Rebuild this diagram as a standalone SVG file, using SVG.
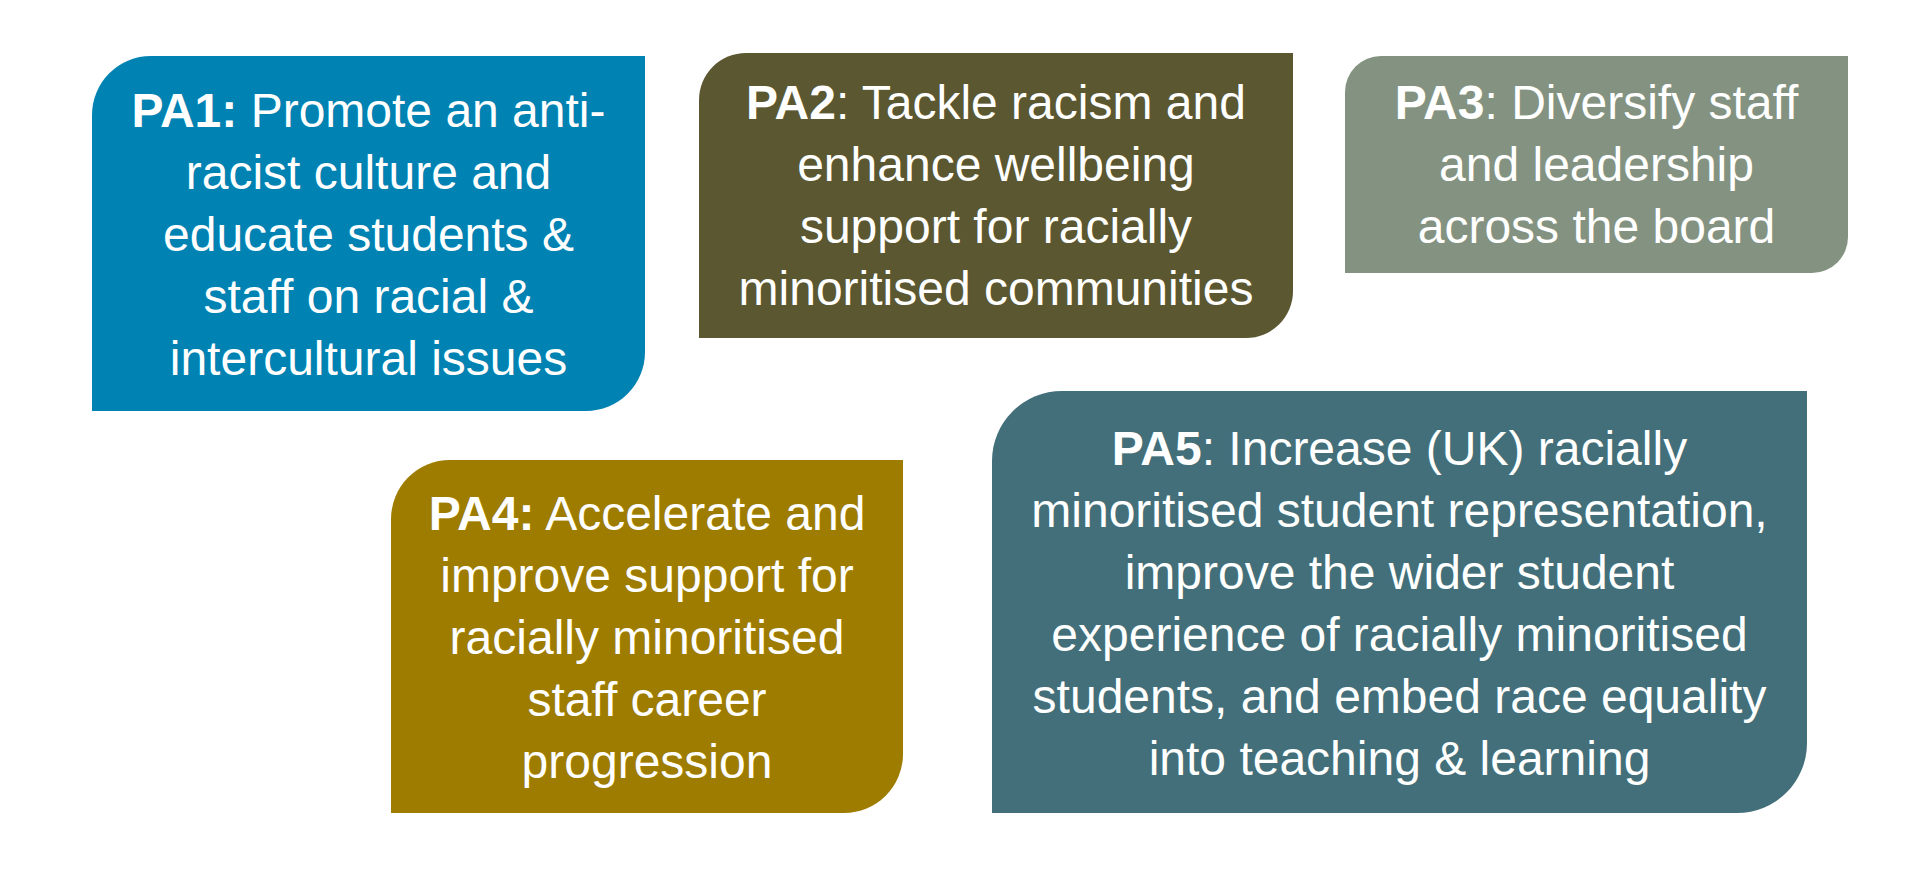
<svg xmlns="http://www.w3.org/2000/svg" width="1920" height="880" viewBox="0 0 1920 880">
<style>
.t{font-family:"Liberation Sans",Arial,sans-serif;font-size:48px;fill:#ffffff;text-anchor:middle}
.b{font-weight:bold}
</style>
<rect width="1920" height="880" fill="#ffffff"/>
<g id="connectors"></g>
<g id="pa1">
<path d="M151,56 H645 V352 A59,59 0 0 1 586,411 H92 V115 A59,59 0 0 1 151,56 Z" fill="#0082B2"/>
<text class="t"><tspan x="368.5" y="127"><tspan class="b">PA1:</tspan> Promote an anti-</tspan><tspan x="368.5" y="189">racist culture and</tspan><tspan x="368.5" y="251">educate students &amp;</tspan><tspan x="368.5" y="313">staff on racial &amp;</tspan><tspan x="368.5" y="375">intercultural issues</tspan></text>
</g>
<g id="pa2">
<path d="M746,53 H1293 V291 A47,47 0 0 1 1246,338 H699 V100 A47,47 0 0 1 746,53 Z" fill="#5A5731"/>
<text class="t"><tspan x="996" y="119"><tspan class="b">PA2</tspan>: Tackle racism and</tspan><tspan x="996" y="181">enhance wellbeing</tspan><tspan x="996" y="243">support for racially</tspan><tspan x="996" y="305">minoritised communities</tspan></text>
</g>
<g id="pa3">
<path d="M1381,56 H1848 V237 A36,36 0 0 1 1812,273 H1345 V92 A36,36 0 0 1 1381,56 Z" fill="#849381"/>
<text class="t"><tspan x="1596.5" y="119"><tspan class="b">PA3</tspan>: Diversify staff</tspan><tspan x="1596.5" y="181">and leadership</tspan><tspan x="1596.5" y="243">across the board</tspan></text>
</g>
<g id="pa4">
<path d="M450,460 H903 V754 A59,59 0 0 1 844,813 H391 V519 A59,59 0 0 1 450,460 Z" fill="#9E7C00"/>
<text class="t"><tspan x="647" y="530"><tspan class="b">PA4:</tspan> Accelerate and</tspan><tspan x="647" y="592">improve support for</tspan><tspan x="647" y="654">racially minoritised</tspan><tspan x="647" y="716">staff career</tspan><tspan x="647" y="778">progression</tspan></text>
</g>
<g id="pa5">
<path d="M1062,391 H1807 V743 A70,70 0 0 1 1737,813 H992 V461 A70,70 0 0 1 1062,391 Z" fill="#426F79"/>
<text class="t"><tspan x="1399.5" y="465"><tspan class="b">PA5</tspan>: Increase (UK) racially</tspan><tspan x="1399.5" y="527">minoritised student representation,</tspan><tspan x="1399.5" y="589">improve the wider student</tspan><tspan x="1399.5" y="651">experience of racially minoritised</tspan><tspan x="1399.5" y="713">students, and embed race equality</tspan><tspan x="1399.5" y="775">into teaching &amp; learning</tspan></text>
</g>
</svg>
